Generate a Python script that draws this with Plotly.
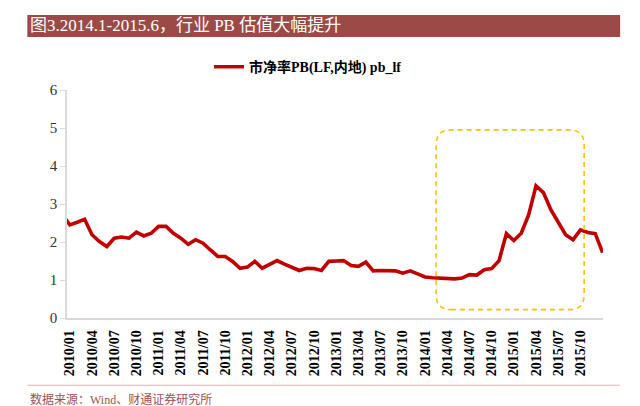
import plotly.graph_objects as go
import pandas as pd

# monthly categories, 2009/12 .. 2016/01
months = list(pd.date_range("2009-12-01", periods=74, freq="MS").strftime("%Y/%m"))

# 市净率PB(LF,内地) pb_lf
pb_lf = [2.72,
         2.45, 2.52, 2.60, 2.19, 2.01, 1.88, 2.10, 2.13, 2.10, 2.26, 2.16, 2.23,
         2.41, 2.41, 2.23, 2.10, 1.94, 2.06, 1.97, 1.79, 1.62, 1.62, 1.49, 1.31,
         1.34, 1.49, 1.31, 1.41, 1.51, 1.42, 1.34, 1.25, 1.31, 1.30, 1.25, 1.49,
         1.50, 1.51, 1.38, 1.36, 1.47, 1.24, 1.25, 1.25, 1.24, 1.18, 1.24, 1.16,
         1.08, 1.06, 1.05, 1.02, 1.03, 1.05, 1.14, 1.13, 1.27, 1.30, 1.51, 2.22,
         2.04, 2.23, 2.71, 3.48, 3.30, 2.85, 2.54, 2.19, 2.06, 2.32, 2.25, 2.22,
         1.72]

# every third month gets a label, from 2010/01
tick_labels = months[1::3][:24]

title_text = "图3.2014.1-2015.6，行业 PB 估值大幅提升"
source_text = "数据来源：Wind、财通证券研究所"
series_name = "市净率PB(LF,内地) pb_lf"

# highlighted period (2014 .. 2015 run-up), in axis units
box_x = [months.index("2014/02") + 0.5, months.index("2015/10") + 0.5]
box_y = [0.22, 4.95]

serif = "Liberation Serif, Times New Roman, Noto Sans CJK SC"
idx = list(range(len(months)))

fig = go.Figure()
fig.add_trace(go.Scatter(
    x=idx, y=pb_lf, mode="lines", name=series_name,
    line=dict(color="#C00000", width=3.6),
))

# rounded dashed box
rx, ry = 2.0, 0.39
x0, x1 = box_x
y0, y1 = box_y
path = (f"M {x0+rx},{y0} L {x1-rx},{y0} Q {x1},{y0} {x1},{y0+ry} "
        f"L {x1},{y1-ry} Q {x1},{y1} {x1-rx},{y1} L {x0+rx},{y1} "
        f"Q {x0},{y1} {x0},{y1-ry} L {x0},{y0+ry} Q {x0},{y0} {x0+rx},{y0} Z")
fig.add_shape(type="path", path=path, xref="x", yref="y",
              line=dict(color="#FFC000", width=1.6, dash="5px,4px"))

# header band
fig.add_shape(type="rect", xref="paper", yref="paper",
              x0=-0.074, x1=1.032, y0=1.232, y1=1.329,
              fillcolor="#9C4A47", line=dict(width=0), layer="below")
fig.add_annotation(text=title_text, xref="paper", yref="paper",
                   x=-0.072, y=1.281, xanchor="left", yanchor="middle",
                   showarrow=False,
                   font=dict(family=serif, size=17, color="white"))

# footer rule and source
fig.add_shape(type="line", xref="paper", yref="paper",
              x0=-0.074, x1=1.032, y0=-0.295, y1=-0.295,
              line=dict(color="#E2B4B2", width=1))
fig.add_annotation(text=source_text, xref="paper", yref="paper",
                   x=-0.072, y=-0.357, xanchor="left", yanchor="middle",
                   showarrow=False,
                   font=dict(family=serif, size=12, color="#A0524F"))

fig.update_layout(
    width=640, height=406,
    margin=dict(l=67, r=37, t=90, b=88, autoexpand=False),
    paper_bgcolor="white", plot_bgcolor="white",
    showlegend=True,
    legend=dict(orientation="h", x=0.265, y=1.1, xanchor="left", yanchor="middle",
                font=dict(family=serif, size=14, color="black", weight="bold"),
                itemwidth=30),
    font=dict(family=serif),
)
fig.update_xaxes(
    range=[0.62, 73.05], tickmode="array",
    tickvals=[months.index(t) for t in tick_labels], ticktext=tick_labels,
    tickangle=-90, showline=True, linecolor="#D9D9D9", linewidth=1.5,
    showgrid=False, zeroline=False, ticks="", ticklabelstandoff=5,
    tickfont=dict(family=serif, size=14, color="black", weight="bold"),
)
fig.update_yaxes(
    range=[0, 6], dtick=1, showline=True, linecolor="#D9D9D9", linewidth=1.5,
    ticks="outside", ticklen=5, tickcolor="#D9D9D9",
    showgrid=False, zeroline=False,
    tickfont=dict(family=serif, size=15, color="#333333"),
)

# the page body has a default 8px margin, drop it so the figure sits at 0,0
fig.write_html("out.html", config={"displayModeBar": False},
               post_script="document.body.style.margin='0';")
